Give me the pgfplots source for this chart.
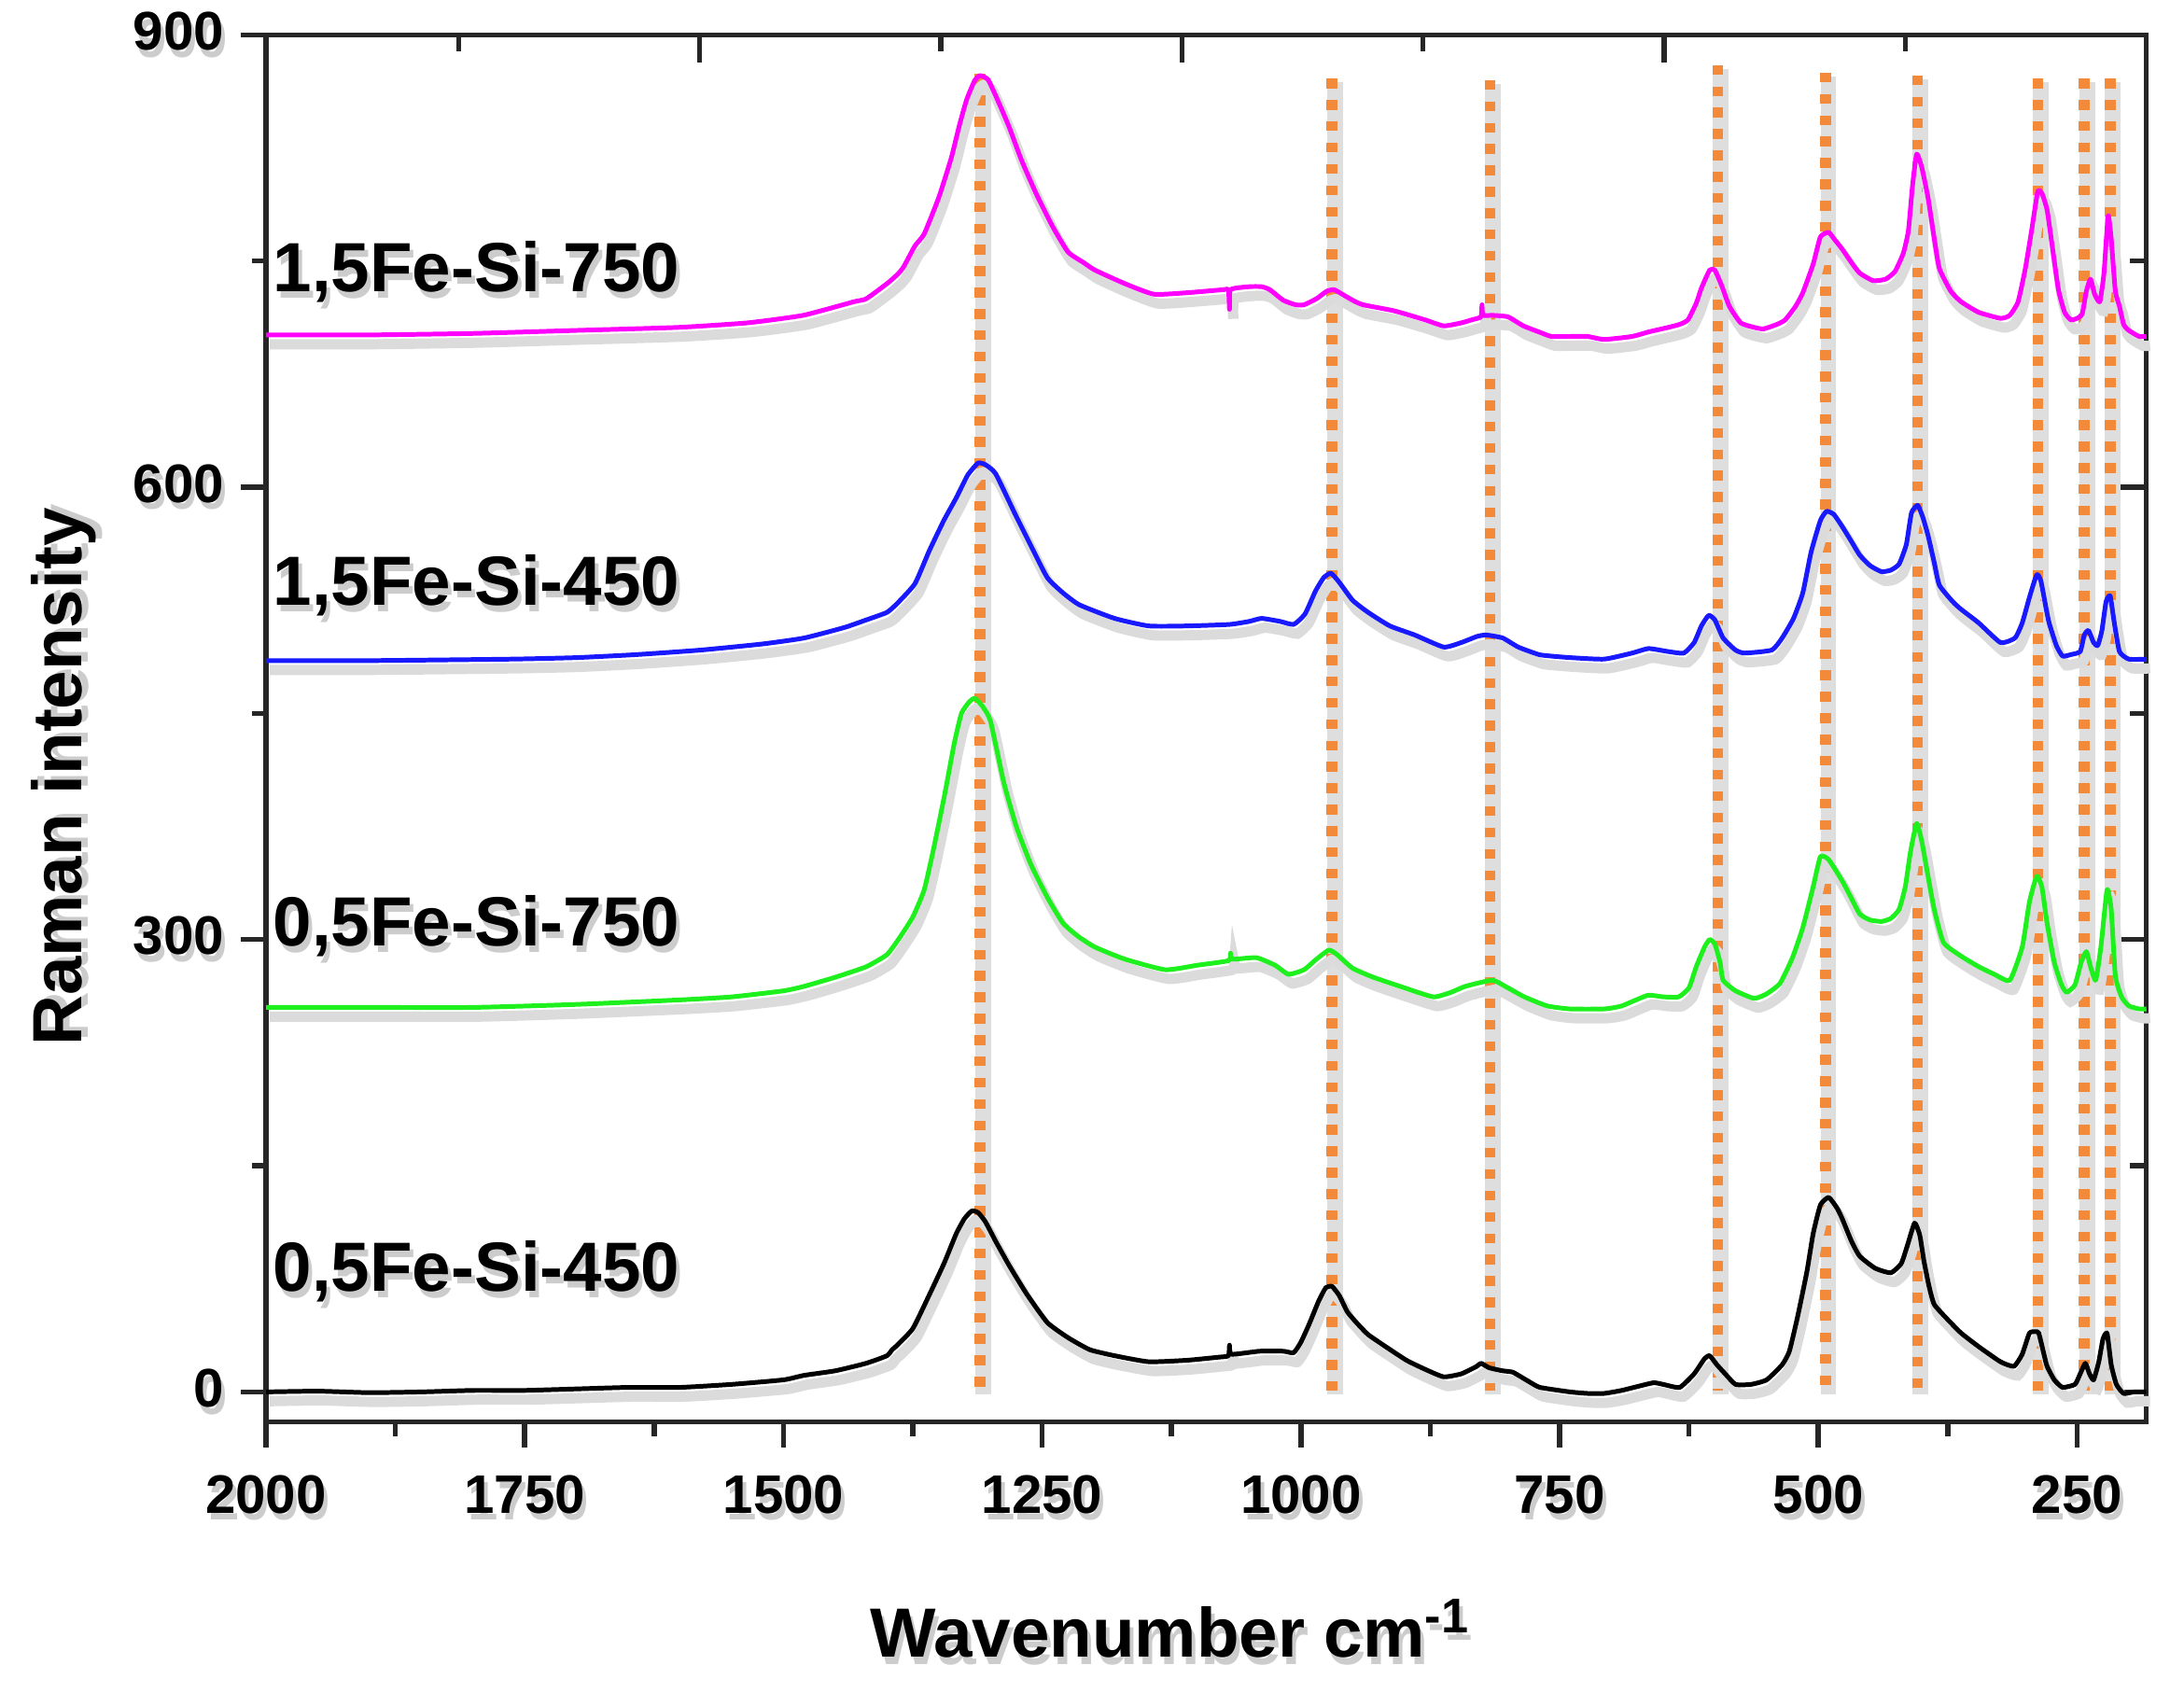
\documentclass[border=0pt]{standalone}
\usepackage{pgfplots}
\usepackage{pgfplotstable}
\pgfplotsset{compat=1.18}
\usepackage{fontspec}
\setmainfont{Liberation Sans}
\setsansfont{Liberation Sans}
\definecolor{cmag}{RGB}{255,0,255}
\definecolor{cblu}{RGB}{25,25,255}
\definecolor{cgrn}{RGB}{30,240,30}
\definecolor{corg}{RGB}{242,138,58}
\definecolor{cshd}{gray}{0.80}
\newcommand{\sh}[1]{\leavevmode\rlap{\raisebox{-1.5pt}{\hspace{0.8pt}\textcolor{cshd}{#1}}}#1}

\pgfplotstableread{
x y
2000 0
1950 0.5
1900 -0.5
1850 0
1800 1
1750 1
1700 2
1650 3
1600 3
1550 5
1500 8
1480 11
1450 14
1420 19
1400 24
1395 28
1390 31
1375 42
1360 63
1345 85
1333 105
1325 115
1318 120
1312 119
1305 113
1295 100
1282 84
1265 65
1245 46
1225 36
1204 28
1180 24
1147 20
1110 21
1080 23
1070 24
1069 31
1067 25
1040 27
1017 27
1007 26
1000 33
992 45
983 60
976 69
970 70
963 64
955 53
945 45
935 38
918 30
898 21
880 15
862 10
845 12
830 17
826 19
818 16
805 14
795 13
780 7
769 3
740 0
723 -1
707 -1
690 1
660 6
650 5
634 3
620 12
610 22
605 24
598 18
590 12
580 5
565 5
550 8
535 18
528 27
520 50
511 80
505 105
498 124
490 129
482 122
477 115
468 100
460 90
445 82
430 79
420 85
414 97
407 112
402 104
398 87
393 70
388 58
375 48
362 39
345 30
324 20
311 17
303 25
296 39
290 40
287 39
282 25
279 17
272 8
264 3
252 5
247 12
242 19
238 12
234 8
229 20
225 35
221 39
217 18
212 5
205 -1
195 0
183 0
}\tblack

\pgfplotstableread{
x y
2000 255
1900 255
1800 255
1700 257
1600 260
1550 262
1500 266
1480 269
1450 275
1420 282
1400 290
1388 301
1375 315
1364 333
1355 360
1344 397
1335 430
1328 450
1320 458
1315 460
1308 455
1300 445
1287 404
1275 375
1261 350
1245 328
1230 311
1215 302
1199 295
1170 287
1131 280
1100 283
1070 286
1068 291
1066 287
1043 288
1025 283
1012 277
997 280
985 287
973 293
965 290
950 281
930 275
900 268
872 262
855 265
841 269
815 273
800 268
784 262
762 256
740 254
707 254
690 256
665 263
650 262
635 262
625 268
618 282
610 295
605 300
600 297
595 285
592 273
580 266
562 261
550 264
537 271
525 288
515 308
505 335
498 355
490 353
477 339
470 330
460 317
450 313
439 312
430 314
422 320
416 335
411 358
405 377
400 365
394 342
388 320
379 298
362 289
345 282
330 277
315 273
303 295
296 325
289 342
284 335
279 311
272 285
265 270
260 265
252 270
246 285
241 292
237 282
232 273
227 295
221 333
217 320
213 276
207 262
200 256
190 254
183 254
}\tgreen

\pgfplotstableread{
x y
2000 485
1900 485
1763 486
1700 487
1642 489
1580 492
1521 496
1480 500
1441 507
1420 512
1400 517
1390 523
1373 536
1359 558
1345 578
1333 593
1322 608
1312 616
1305 615
1295 609
1276 582
1260 560
1245 540
1230 530
1214 522
1180 513
1147 508
1110 508
1069 509
1050 511
1038 513
1020 511
1007 509
996 516
986 531
978 540
971 543
963 537
950 525
935 517
914 508
890 502
862 494
845 497
830 501
821 502
805 500
790 494
770 489
758 488
740 487
707 486
680 490
664 493
645 491
630 490
620 497
613 508
606 515
600 512
592 500
580 492
571 490
545 492
535 500
524 513
515 530
507 557
498 578
492 584
485 582
477 574
468 564
460 555
450 548
439 544
430 545
422 549
415 562
410 583
404 588
399 580
394 568
388 550
383 535
370 524
362 519
345 510
324 497
310 500
303 510
296 527
289 542
285 538
280 520
277 510
270 495
264 488
256 489
247 491
243 502
239 505
234 497
230 495
226 505
222 524
218 528
214 510
209 491
200 486
183 486
}\tblue

\pgfplotstableread{
x y
2000 701
1900 701
1800 702
1700 704
1602 706
1535 709
1481 714
1432 723
1420 725
1400 735
1390 741
1384 746
1373 760
1364 768
1350 792
1338 818
1330 840
1323 857
1315 870
1310 873
1302 870
1290 852
1282 839
1270 817
1256 795
1240 773
1225 756
1210 749
1199 744
1170 735
1142 728
1110 729
1075 731
1070 731
1069 718
1068 731
1050 733
1038 733
1030 731
1017 724
1005 721
997 721
985 725
975 730
968 731
960 728
950 724
940 721
910 717
880 711
862 707
845 709
835 711
826 713
825 721
824 714
815 714
800 713
785 707
770 703
758 700
740 700
723 700
707 698
680 700
664 703
645 706
634 708
626 711
618 722
613 732
605 744
600 744
593 733
586 720
575 709
562 706
553 705
540 708
532 711
522 720
515 729
505 748
498 766
490 769
484 764
477 758
468 749
460 742
447 737
435 738
426 743
418 755
413 770
409 800
405 821
400 812
394 792
388 765
383 745
372 730
362 723
345 716
324 712
315 714
307 723
300 745
294 770
288 796
284 795
279 784
274 760
268 731
262 716
256 711
250 712
245 715
241 730
237 738
233 728
228 723
224 742
220 780
217 765
213 730
209 720
205 708
200 704
190 700
183 700
}\tmag

\pgfplotsset{
  common/.style={
    scale only axis, width=405pt, height=298.8pt,
    x dir=reverse, xmin=183, xmax=2000, ymin=-20, ymax=900,
    clip=false,
  },
  curve/.style={line width=1pt, smooth, tension=0.3, line join=round},
  shadow/.style={black!14, line width=2.2pt, smooth, tension=0.3, xshift=0.8pt, yshift=-2pt},
}

\begin{document}
\begin{tikzpicture}
\useasboundingbox (-57.3pt,-58.2pt) rectangle (413.1pt,306.3pt);
% top/right inward ticks
\begin{axis}[common,
  axis line style={draw=black!85, line width=1.1pt},
  tick style={draw=black!85, line width=1.1pt},
  tick align=inside,
  major tick length=6pt, minor tick length=3.5pt,
  xtick pos=top, ytick pos=right,
  xtick={649,1115,1581}, minor xtick={416,882,1348,1814},
  ytick={0,300,600,900}, minor ytick={150,450,750},
  xticklabels={}, yticklabels={},
]
\end{axis}
\begin{axis}[common,
  axis line style={draw=black!85, line width=1.1pt},
  tick style={draw=black!85, line width=1.1pt},
  tick align=outside,
  major tick length=5.5pt, minor tick length=3pt,
  xtick pos=bottom, ytick pos=left,
  xtick={250,500,750,1000,1250,1500,1750,2000},
  minor xtick={375,625,875,1125,1375,1625,1875},
  ytick={0,300,600,900}, minor ytick={150,450,750},
  ticklabel style={font=\bfseries\fontsize{11.7}{13}\selectfont},
  xticklabel style={yshift=-2.4pt},
  xticklabel={\sh{\pgfmathprintnumber[assume math mode=true,1000 sep={},fixed,precision=0]{\tick}}},
  yticklabel={\sh{\pgfmathprintnumber[assume math mode=true,1000 sep={},fixed,precision=0]{\tick}}},
]
% dashed reference lines: shadow then orange dots
\foreach \p/\t in {1310/874,970/871,817/870,597/880,493/875,404/873,288/871,243/871,218/871}{
  \edef\tmp{\noexpand\addplot[black!13, line width=3.4pt, xshift=0.6pt, yshift=-0.8pt, forget plot] coordinates {(\p,1) (\p,\t)};
  \noexpand\addplot[corg, line width=2.3pt, dash pattern=on 2.1pt off 2.5pt, forget plot] coordinates {(\p,\t) (\p,1)};}
  \tmp
}
% curve shadows
\addplot[shadow] table {\tblack};
\addplot[shadow] table {\tgreen};
\addplot[shadow] table {\tblue};
\addplot[shadow] table {\tmag};
% curves
\addplot[curve, black] table {\tblack};
\addplot[curve, cgrn] table {\tgreen};
\addplot[curve, cblu] table {\tblue};
\addplot[curve, cmag] table {\tmag};
% sample labels
\node[anchor=base west, inner sep=0pt, font=\bfseries\fontsize{15}{16}\selectfont] at (axis cs:1994,730) {\sh{1,5Fe-Si-750}};
\node[anchor=base west, inner sep=0pt, font=\bfseries\fontsize{15}{16}\selectfont] at (axis cs:1994,522) {\sh{1,5Fe-Si-450}};
\node[anchor=base west, inner sep=0pt, font=\bfseries\fontsize{15}{16}\selectfont] at (axis cs:1994,296) {\sh{0,5Fe-Si-750}};
\node[anchor=base west, inner sep=0pt, font=\bfseries\fontsize{15}{16}\selectfont] at (axis cs:1994,67) {\sh{0,5Fe-Si-450}};
% axis labels
\node[rotate=90, anchor=center, inner sep=0pt, font=\bfseries\fontsize{15}{16}\selectfont] at ([xshift=-42.9pt]axis description cs:0,0.465) {\sh{Raman intensity}};
\node[anchor=base, inner sep=0pt, font=\bfseries\fontsize{15}{16}\selectfont] at ([yshift=-50.7pt]axis description cs:0.481,0) {\sh{Wavenumber cm\textsuperscript{-1}}};
\end{axis}
\end{tikzpicture}
\end{document}
